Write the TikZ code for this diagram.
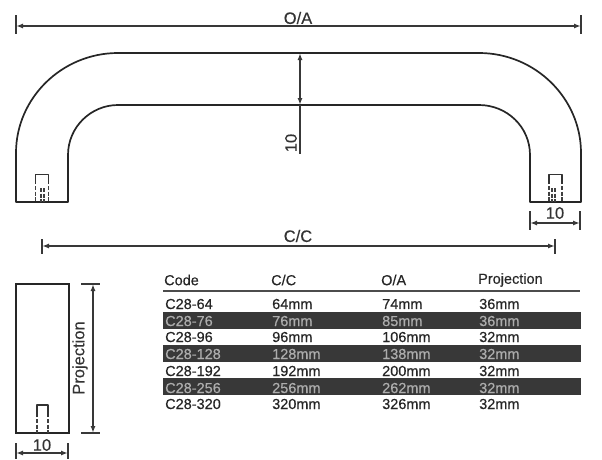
\documentclass[tikz,border=0pt]{standalone}
\usepackage{fontspec}
\setmainfont[FakeBold=0.35]{Liberation Sans}
\usetikzlibrary{arrows.meta}
\tikzset{
 part/.style={draw=black!85,line width=1.7pt},
 hidden/.style={draw=black!75,line width=1.7pt,dash pattern=on 4pt off 1.5pt},
 hiddentop/.style={draw=black!80,line width=1.7pt,line join=round},
 dimline/.style={draw=black!78,line width=1.5pt,{Latex[length=7pt,width=5pt]}-{Latex[length=7pt,width=5pt]}},
 tick/.style={draw=black!78,line width=1.5pt},
 dimtext/.style={font=\fontsize{16.5}{16.5}\selectfont,text=black!80,inner sep=0pt},
 cell/.style={font=\fontsize{14.5}{14.5}\selectfont,text=black!85,inner sep=0pt,anchor=west},
 cellrev/.style={cell,text=black!32},
 band/.style={fill=black!78,draw=none}
}
\newcommand{\slotA}[2]{%
 \draw[hiddentop] (#1-6.5,184) -- (#1-6.5,174.5) -- (#1+6.5,174.5) -- (#1+6.5,184);
 \draw[hidden] (#1-6.5,186) -- (#1-6.5,202);
 \draw[hidden] (#1+6.5,186) -- (#1+6.5,202);
 \draw[hidden] (#2-1.5,188) -- (#2-1.5,202);
 \draw[hidden] (#2+1.5,188) -- (#2+1.5,202);}
\begin{document}
\begin{tikzpicture}[x=1pt,y=-1pt]
\useasboundingbox (0,0) rectangle (602,459);
% handle
\draw[part,line join=round] (16,202) -- (16,153) .. controls (16,98) and (62,53) .. (118,53) -- (479,53) .. controls (535,53) and (581,98) .. (581,153) -- (581,202) -- (530,202) -- (530,155) .. controls (530,127) and (507,105) .. (479,105) -- (118,105) .. controls (91,105) and (68,127) .. (68,155) -- (68,202) -- cycle;
\slotA{42}{42.5}
\slotA{555.5}{553.5}
% O/A
\coordinate (oa1) at (16,26); \coordinate (oa2) at (581,26);
\draw[dimline] (oa1) -- (oa2);
\draw[tick] (16,15) -- (16,34); \draw[tick] (581,15) -- (581,34);
\node[dimtext] (oat) at (298,18) {O/A};
% 10 vertical
\coordinate (ta) at (300,53); \coordinate (tb) at (300,105); \coordinate (tc) at (300,154);
\draw[dimline] (ta) -- (tb);
\draw[tick] (tb) -- (tc);
\node[dimtext,rotate=90] (tent) at (291,143) {10};
% 10 right
\coordinate (ra) at (530,223); \coordinate (rb) at (580,223);
\draw[dimline] (ra) -- (rb);
\draw[tick] (530,211) -- (530,230); \draw[tick] (580,211) -- (580,230);
\node[dimtext] (rt) at (555,213) {10};
% C/C
\coordinate (ca) at (42,246); \coordinate (cb) at (555,246);
\draw[dimline] (ca) -- (cb);
\draw[tick] (42,239) -- (42,254); \draw[tick] (555,239) -- (555,254);
\node[dimtext] (cct) at (298,236) {C/C};
% side view
\draw[part] (16,284) rectangle (69,433);
\draw[hiddentop] (37,417) -- (37,405) -- (48,405) -- (48,417);
\draw[hidden] (37,419) -- (37,433);
\draw[hidden] (48,419) -- (48,433);
\coordinate (pa) at (93,284); \coordinate (pb) at (93,433);
\draw[dimline] (pa) -- (pb);
\draw[tick] (81,284) -- (100,284); \draw[tick] (81,433) -- (100,433);
\node[dimtext,rotate=90] (pt) at (80,358) {Projection};
% bottom 10
\coordinate (ba) at (16,453); \coordinate (bb) at (68,453);
\draw[dimline] (ba) -- (bb);
\draw[tick] (16,443) -- (16,459); \draw[tick] (68,443) -- (68,459);
\node[dimtext] (bt) at (42,445) {10};
% table
\draw[draw=black!70,line width=1.8pt] (163,291) -- (580,291);
\fill[band] (163,312) rectangle (581,329);
\fill[band] (163,345) rectangle (581,362);
\fill[band] (163,378) rectangle (581,395);
\node[cell] (h1) at (164,280) {Code};
\node[cell] (h2) at (271,280) {C/C};
\node[cell] (h3) at (381,280) {O/A};
\node[cell] (h4) at (478,280) {Projection};
\node[cell] at (165,304) {C28-64}; \node[cell] at (272,304) {64mm}; \node[cell] at (382,304) {74mm}; \node[cell] at (479,304) {36mm};
\node[cellrev] at (165,321) {C28-76}; \node[cellrev] at (272,321) {76mm}; \node[cellrev] at (382,321) {85mm}; \node[cellrev] at (479,321) {36mm};
\node[cell] at (165,337) {C28-96}; \node[cell] at (272,337) {96mm}; \node[cell] at (382,337) {106mm}; \node[cell] at (479,337) {32mm};
\node[cellrev] at (165,354) {C28-128}; \node[cellrev] at (272,354) {128mm}; \node[cellrev] at (382,354) {138mm}; \node[cellrev] at (479,354) {32mm};
\node[cell] at (165,371) {C28-192}; \node[cell] at (272,371) {192mm}; \node[cell] at (382,371) {200mm}; \node[cell] at (479,371) {32mm};
\node[cellrev] at (165,388) {C28-256}; \node[cellrev] at (272,388) {256mm}; \node[cellrev] at (382,388) {262mm}; \node[cellrev] at (479,388) {32mm};
\node[cell] at (165,404) {C28-320}; \node[cell] at (272,404) {320mm}; \node[cell] at (382,404) {326mm}; \node[cell] at (479,404) {32mm};
\end{tikzpicture}
\end{document}
